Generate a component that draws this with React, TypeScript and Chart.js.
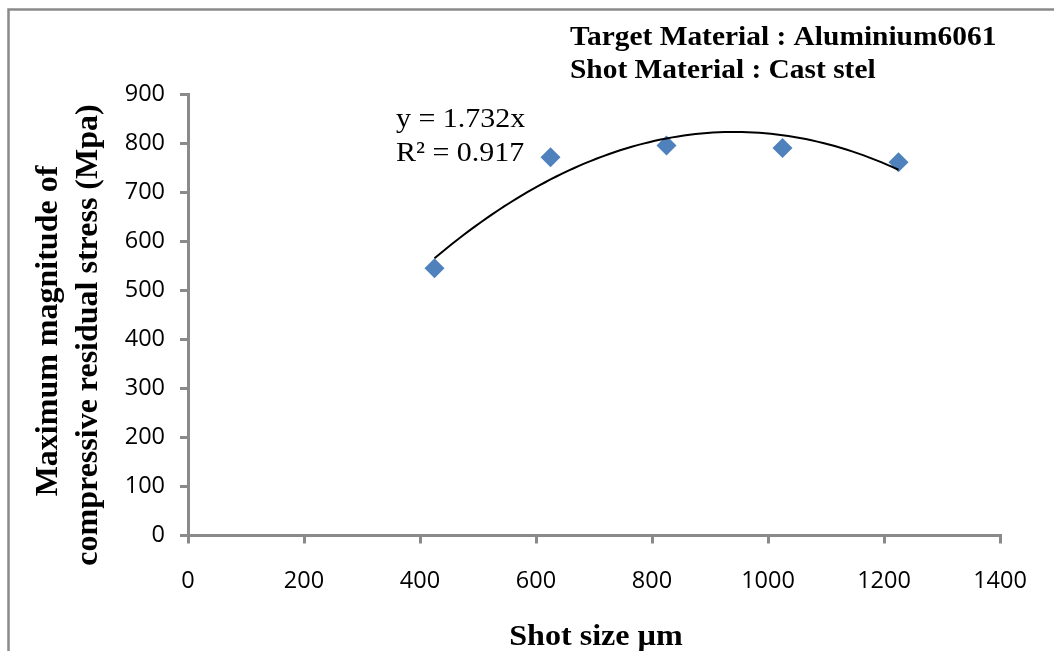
import React, { useEffect, useRef } from "react";
import { Chart, registerables } from "chart.js";

Chart.register(...registerables);

// Data
const shotSizes = [425, 625, 825, 1025, 1225];
const stressValues = [545, 771, 795, 790, 761];
const xTicks = [0, 200, 400, 600, 800, 1000, 1200, 1400];
const yTicks = [0, 100, 200, 300, 400, 500, 600, 700, 800, 900];
const titleLines = ["Target Material : Aluminium6061", "Shot Material : Cast stel"];
const equationLines = ["y = 1.732x", "R² = 0.917"];
const yTitleLines = ["Maximum magnitude of", "compressive residual stress (Mpa)"];
const xTitle = "Shot size µm";

// least-squares quadratic trendline derived from the data
function quadFit(xs: number[], ys: number[]) {
  const n = xs.length;
  let s0 = n, s1 = 0, s2 = 0, s3 = 0, s4 = 0, t0 = 0, t1 = 0, t2 = 0;
  for (let i = 0; i < n; i++) {
    const x = xs[i], y = ys[i];
    s1 += x; s2 += x * x; s3 += x * x * x; s4 += x * x * x * x;
    t0 += y; t1 += x * y; t2 += x * x * y;
  }
  const A = [
    [s4, s3, s2, t2],
    [s3, s2, s1, t1],
    [s2, s1, s0, t0],
  ];
  for (let i = 0; i < 3; i++) {
    for (let k = i + 1; k < 3; k++) {
      const f = A[k][i] / A[i][i];
      for (let j = i; j < 4; j++) A[k][j] -= f * A[i][j];
    }
  }
  const c = [0, 0, 0];
  for (let i = 2; i >= 0; i--) {
    let s = A[i][3];
    for (let j = i + 1; j < 3; j++) s -= A[i][j] * c[j];
    c[i] = s / A[i][i];
  }
  return (x: number) => c[0] * x * x + c[1] * x + c[2];
}

const AXIS = "#8a8a8a";
const SX = 1.07;

function stretchedText(ctx: CanvasRenderingContext2D, text: string, x: number, y: number, align: "left" | "center") {
  ctx.save();
  ctx.translate(x, y);
  ctx.scale(SX, 1);
  ctx.textAlign = align;
  ctx.fillText(text, 0, 0);
  ctx.restore();
}

export default function App() {
  const ref = useRef<HTMLCanvasElement>(null);
  useEffect(() => {
    if (!ref.current) return;
    const f = quadFit(shotSizes, stressValues);
    const xmin = Math.min(...shotSizes), xmax = Math.max(...shotSizes);
    const trend: { x: number; y: number }[] = [];
    for (let i = 0; i <= 80; i++) {
      const x = xmin + ((xmax - xmin) * i) / 80;
      trend.push({ x, y: f(x) });
    }
    const textPlugin = {
      id: "texts",
      afterDraw(chart: any) {
        const ctx = chart.ctx as CanvasRenderingContext2D;
        ctx.save();
        // frame
        ctx.strokeStyle = AXIS;
        ctx.lineWidth = 2.5;
        ctx.beginPath();
        ctx.moveTo(8.5, 651);
        ctx.lineTo(8.5, 9.5);
        ctx.lineTo(1054, 9.5);
        ctx.stroke();
        ctx.fillStyle = "#000";
        ctx.textBaseline = "alphabetic";
        ctx.font = "bold 27.5px 'Liberation Serif'";
        stretchedText(ctx, titleLines[0], 570, 45, "left");
        stretchedText(ctx, titleLines[1], 570, 78, "left");
        ctx.font = "28px 'Liberation Serif'";
        stretchedText(ctx, equationLines[0], 396, 127, "left");
        stretchedText(ctx, equationLines[1], 396, 161, "left");
        ctx.font = "bold 30px 'Liberation Serif'";
        stretchedText(ctx, xTitle, 596, 645, "center");
        ctx.save();
        ctx.rotate(-Math.PI / 2);
        ctx.textAlign = "center";
        ctx.font = "bold 32px 'Liberation Serif'";
        ctx.fillText(yTitleLines[0], -331, 57);
        ctx.fillText(yTitleLines[1], -335, 97);
        ctx.restore();
        ctx.restore();
      },
    };
    const chart = new Chart(ref.current, {
      type: "scatter",
      data: {
        datasets: [
          {
            type: "line",
            data: trend,
            borderColor: "#000",
            borderWidth: 2,
            pointRadius: 0,
            fill: false,
            tension: 0,
          } as any,
          {
            data: shotSizes.map((x, i) => ({ x, y: stressValues[i] })),
            backgroundColor: "#4F81BD",
            borderWidth: 0,
            pointStyle: "rectRot",
            pointRadius: 10,
          },
        ],
      },
      options: {
        animation: false,
        responsive: false,
        maintainAspectRatio: false,
        layout: { padding: { left: 0, top: 94, right: 54, bottom: 0 } },
        plugins: { legend: { display: false }, tooltip: { enabled: false } },
        scales: {
          x: {
            type: "linear",
            min: 0,
            max: 1400,
            afterFit(scale: any) { scale.height = 115.5; },
            afterBuildTicks(scale: any) { scale.ticks = xTicks.map((v) => ({ value: v })); },
            grid: { drawOnChartArea: false, drawTicks: true, tickLength: 8, color: AXIS, lineWidth: 3 },
            border: { color: AXIS, width: 3 },
            ticks: {
              color: "#000",
              font: { family: "'Open Sans'", size: 23.5 },
              padding: 24,
              maxRotation: 0,
              callback: (v: any) => String(v),
            },
          },
          y: {
            type: "linear",
            min: 0,
            max: 900,
            afterFit(scale: any) { scale.width = 188; },
            afterBuildTicks(scale: any) { scale.ticks = yTicks.map((v) => ({ value: v })); },
            grid: { drawOnChartArea: false, drawTicks: true, tickLength: 8, color: AXIS, lineWidth: 3 },
            border: { color: AXIS, width: 3 },
            ticks: {
              color: "#000",
              font: { family: "'Open Sans'", size: 23.5 },
              padding: 15,
              callback: (v: any) => String(v),
            },
          },
        },
      },
      plugins: [textPlugin],
    });
    return () => chart.destroy();
  }, []);
  return (
    <div style={{ position: "fixed", left: 0, top: 0, width: 1054, height: 651, background: "#fff" }}>
      <canvas ref={ref} width={1054} height={651} style={{ width: 1054, height: 651, display: "block" }} />
    </div>
  );
}
